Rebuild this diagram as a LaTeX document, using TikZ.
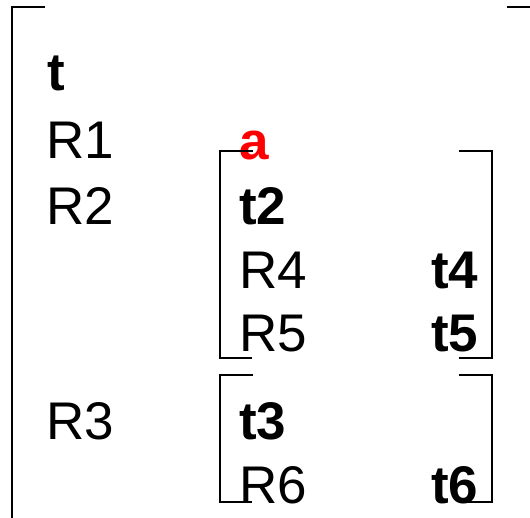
\documentclass[tikz,border=0pt]{standalone}
\usepackage{fontspec}
\setmainfont{Liberation Sans}
\begin{document}
\begin{tikzpicture}[x=1pt,y=-1pt,
  lbl/.style={anchor=base west,inner sep=0pt,outer sep=0pt,font=\fontsize{53}{64}\selectfont},
  term/.style={lbl,font=\fontsize{53}{64}\selectfont\bfseries},
  hot/.style={term,text=red},
  brk/.style={line width=2.4pt,line cap=butt,line join=miter}]
\useasboundingbox (0,0) rectangle (530,517);
% outer level
\node[term] (t)  at (47,90)  {t};
\node[lbl]  (r1) at (46,158) {R1};
\node[lbl]  (r2) at (46,224) {R2};
\node[lbl]  (r3) at (46,439) {R3};
% first nested block
\node[hot]  (a)  at (239,159) {a};
\node[term] (t2) at (239,224) {t2};
\node[lbl]  (r4) at (239,288) {R4};
\node[term] (t4) at (431,288) {t4};
\node[lbl]  (r5) at (239,351) {R5};
\node[term] (t5) at (431,351) {t5};
% second nested block
\node[term] (t3) at (239,439) {t3};
\node[lbl]  (r6) at (239,503) {R6};
\node[term] (t6) at (431,503) {t6};
% brackets
\draw[brk] (45,7) -- (12,7) -- (12,530);
\draw[brk] (507,7) -- (540,7);
\draw[brk] (253,151) -- (220,151) -- (220,358) -- (252,358);
\draw[brk] (459,151) -- (492,151) -- (492,358) -- (459,358);
\draw[brk] (253,375) -- (220,375) -- (220,502) -- (252,502);
\draw[brk] (459,375) -- (492,375) -- (492,502) -- (459,502);
\end{tikzpicture}
\end{document}
